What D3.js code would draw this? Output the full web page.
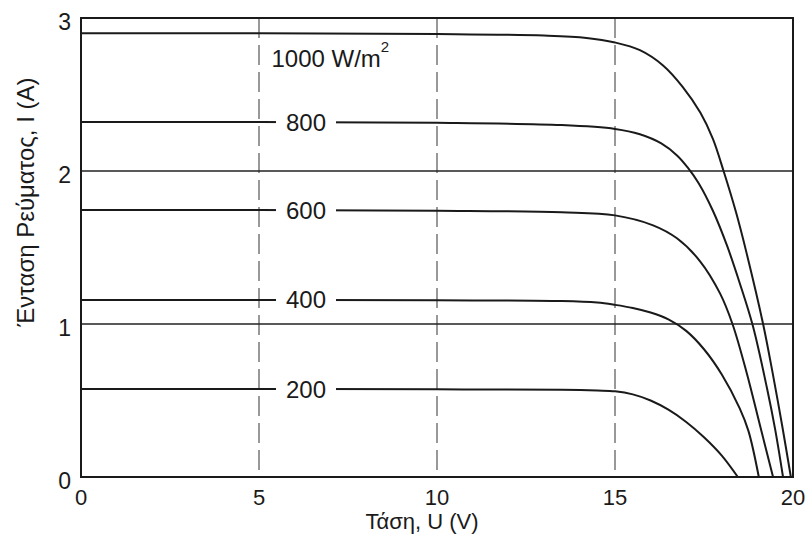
<!DOCTYPE html>
<html><head><meta charset="utf-8">
<script src="https://cdn.jsdelivr.net/npm/d3@7/dist/d3.min.js"></script>
<style>
html,body{margin:0;padding:0;background:#fff;}
text{font-family:"Liberation Sans",Arial,Helvetica,sans-serif;fill:#1a1a1a;}
</style></head>
<body><svg id="c" width="808" height="545"></svg>
<script>
// ---- data ----
const xTicks = [0, 5, 10, 15, 20];
const yTicks = [0, 1, 2, 3];
const irradiance = ["1000", "800", "600", "400", "200"];
const curve1000 = [[0,2.90],[5,2.90],[10,2.895],[13,2.885],[14.2,2.87],[15,2.84],[15.7,2.79],[16.35,2.69],[16.9,2.55],[17.4,2.38],[17.75,2.21],[18.05,2.0],[18.4,1.73],[18.7,1.46],[19.16,1.0],[19.42,0.69],[19.7,0.33],[19.94,0]];
const curve800  = [[0,2.32],[5,2.32],[10,2.315],[13.5,2.30],[15,2.275],[15.7,2.24],[16.3,2.18],[16.75,2.10],[17.05,2.02],[17.35,1.92],[17.75,1.74],[18.15,1.51],[18.5,1.27],[18.87,0.99],[19.27,0.58],[19.5,0.31],[19.72,0]];
const curve600  = [[0,1.745],[5,1.745],[10,1.74],[13.5,1.73],[15,1.71],[16.07,1.645],[16.74,1.56],[17.39,1.41],[17.95,1.20],[18.3,1.0],[18.7,0.68],[19.07,0.34],[19.44,0]];
const curve400  = [[0,1.157],[5,1.157],[10,1.155],[13.5,1.15],[14.5,1.14],[15,1.125],[15.5,1.105],[16,1.075],[16.5,1.03],[17,0.955],[17.5,0.835],[18,0.67],[18.5,0.45],[18.75,0.30],[19.04,0]];
const curve200  = [[0,0.575],[5,0.575],[10,0.573],[13.5,0.57],[14.5,0.565],[15,0.56],[15.5,0.54],[16,0.50],[16.5,0.44],[17,0.36],[17.5,0.26],[18,0.14],[18.45,0]];
const curves = [curve1000, curve800, curve600, curve400, curve200];
const xTitle = "Τάση, U (V)";
const yTitle = "Ένταση Ρεύματος, I (A)";

// ---- layout ----
const svg = d3.select("#c");
const L = 81, R = 793, T = 18, B = 477;
const x = d3.scaleLinear().domain([0, 20]).range([L, R]);
const y = d3.scaleLinear().domain([0, 3]).range([B, T]);
const ink = "#1a1a1a";

// vertical dashed grid
svg.append("g").selectAll("line").data(xTicks.filter(d => d > 0 && d < 20)).join("line")
  .attr("x1", d => x(d)).attr("x2", d => x(d)).attr("y1", T).attr("y2", B)
  .attr("stroke", "#555").attr("stroke-width", 1.2).attr("stroke-dasharray", "20,7");
// horizontal grid
svg.append("g").selectAll("line").data(yTicks.filter(d => d > 0 && d < 3)).join("line")
  .attr("x1", L).attr("x2", R).attr("y1", d => y(d)).attr("y2", d => y(d))
  .attr("stroke", "#222").attr("stroke-width", 1.6);

// frame
svg.append("rect").attr("x", L).attr("y", T).attr("width", R - L).attr("height", B - T)
  .attr("fill", "none").attr("stroke", ink).attr("stroke-width", 2);

// curves
const line = d3.line().x(d => x(d[0])).y(d => y(d[1])).curve(d3.curveCatmullRom.alpha(0.5));
svg.append("g").selectAll("path").data(curves).join("path")
  .attr("d", line).attr("fill", "none").attr("stroke", ink).attr("stroke-width", 2);

// curve labels (800..200 break the line)
const labelU = 6.32;
curves.slice(1).forEach((c, i) => {
  const cx = x(labelU), cy = y(c[0][1]);
  svg.append("rect").attr("x", cx - 30).attr("y", cy - 11).attr("width", 60).attr("height", 22).attr("fill", "#fff");
  svg.append("text").attr("x", cx).attr("y", cy).attr("text-anchor", "middle")
    .attr("dominant-baseline", "central").attr("font-size", 24).text(irradiance[i + 1]);
});
const t1 = svg.append("text").attr("x", x(5.35)).attr("y", y(2.68)).attr("font-size", 24);
t1.append("tspan").text(irradiance[0] + " W/m");
t1.append("tspan").attr("font-size", 15).attr("dy", -15).text("2");

// tick labels
svg.append("g").selectAll("text").data(xTicks).join("text")
  .attr("x", d => x(d)).attr("y", 505).attr("text-anchor", "middle").attr("font-size", 22).text(d => d);
svg.append("g").selectAll("text").data(yTicks).join("text")
  .attr("x", 71).attr("y", d => y(d) + 4).attr("text-anchor", "end")
  .attr("dominant-baseline", "central").attr("font-size", 23).text(d => d);

// axis titles
svg.append("text").attr("x", 422).attr("y", 529).attr("text-anchor", "middle").attr("font-size", 22).text(xTitle);
svg.append("text").attr("transform", "translate(34,202) rotate(-90)").attr("text-anchor", "middle")
  .attr("font-size", 24).text(yTitle);
</script></body></html>
